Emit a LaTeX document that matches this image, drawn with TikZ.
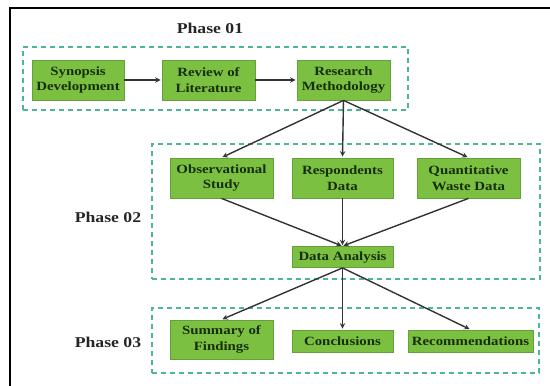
\documentclass[tikz,border=0pt]{standalone}
\usepackage{fontspec}
\setmainfont{Liberation Serif}[FakeStretch=1.18]
\usetikzlibrary{positioning,arrows}
\usetikzlibrary{arrows.meta}
\usepackage{xcolor}
\definecolor{stepfill}{RGB}{124,192,66}
\definecolor{stepline}{RGB}{100,160,60}
\definecolor{steptext}{RGB}{22,46,12}
\definecolor{phaseline}{RGB}{78,180,155}

\begin{document}
\begin{tikzpicture}[x=1pt,y=-1pt,>=stealth]
	\useasboundingbox (0,0) rectangle (550,386);
	\draw [line width=2pt] (10,386) -- (10,8) -- (550,8);
	% phase frames
	\tikzstyle{every node}=[draw=phaseline, line width=1.3pt, dash pattern=on 5pt off 4pt, inner sep=0pt]
	\draw (215.5,78.5) node (f1) [minimum width=385pt, minimum height=63pt]{};
	\draw (346,211.5) node (f2) [minimum width=388pt, minimum height=135pt]{};
	\draw (345.5,340.5) node (f3) [minimum width=387pt, minimum height=65pt]{};
	\tikzstyle{every node}=[font=\bfseries\fontsize{15}{17}\selectfont, text=black!85]
	\draw (210,28) node (l1) {Phase 01};
	\draw (108,217) node (l2) {Phase 02};
	\draw (108,342) node (l3) {Phase 03};
	% steps
	\tikzstyle{every node}=[font=\bfseries\fontsize{12.6}{15.5}\selectfont, text=steptext, fill=stepfill, draw=stepline, line width=0.8pt, align=center, inner sep=0pt, minimum height=40pt]
	\draw (78,80) node (s1) [minimum width=92pt]{Synopsis\\Development};
	\draw (208.5,80) node (s2) [minimum width=93pt]{Review of\\Literature};
	\draw (343.5,80) node (s3) [minimum width=93pt]{Research\\Methodology};
	\draw (221.5,178) node (o1) [minimum width=103pt]{Observational\\Study};
	\draw (342.5,178) node (o2) [minimum width=101pt]{Respondents\\Data};
	\draw (468.5,178) node (o3) [minimum width=103pt]{Quantitative\\Waste Data};
	\draw (342.5,257) node (da) [minimum width=101pt, minimum height=21pt]{Data Analysis};
	\draw (221.5,339.5) node (r1) [minimum width=103pt, minimum height=39pt]{Summary of\\Findings};
	\draw (342.5,341) node (r2) [minimum width=101pt, minimum height=22pt]{Conclusions};
	\draw (470.5,341) node (r3) [minimum width=125pt, minimum height=22pt]{Recommendations};
	% connectors
	\tikzstyle{every path}=[line width=1.4pt, draw=black!80]
	\draw [shorten >=1pt,->] (s1) to (s2);
	\draw [shorten >=1pt,->] (s2) to (s3);
	\draw [shorten >=1pt,->] (s3.south) to (o1.north);
	\draw [shorten >=1pt,->] (s3.south) to (o2.north);
	\draw [shorten >=1pt,->] (s3.south) to (o3.north);
	\draw [shorten >=1pt,->] (o1.south) to (da.north);
	\draw [shorten >=1pt,->] (o2.south) to (da.north);
	\draw [shorten >=1pt,->] (o3.south) to (da.north);
	\draw [shorten >=1pt,->] (da.south) to (r1.north);
	\draw [shorten >=1pt,->] (da.south) to (r2.north);
	\draw [shorten >=1pt,->] (da.south) to (r3.north);
\end{tikzpicture}
\end{document}
